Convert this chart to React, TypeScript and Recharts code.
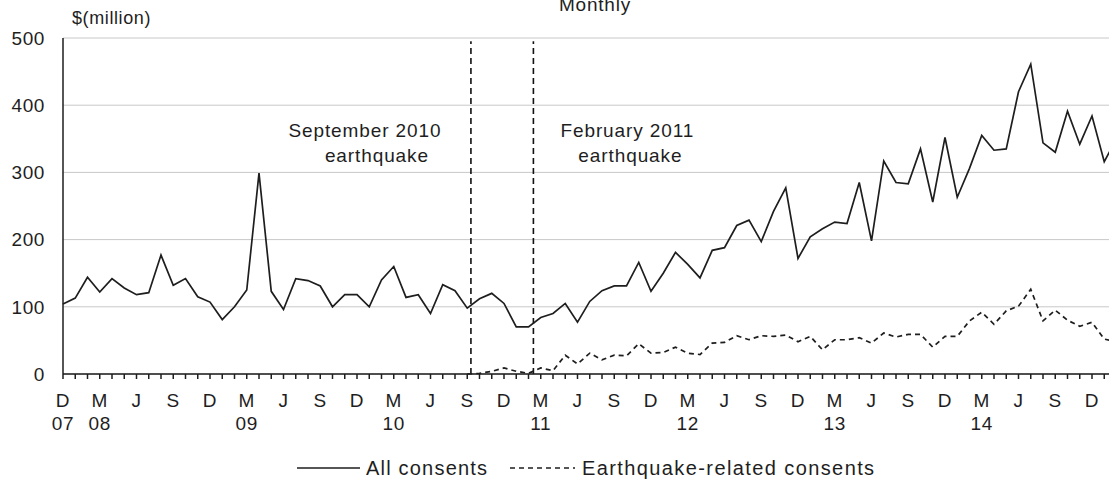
import { CartesianGrid, Line, LineChart, ReferenceLine, XAxis, YAxis } from "recharts"

// monthly values, Dec 2007 .. Feb 2015 ($ million)
const allConsents = [
  104, 113, 144, 122, 142, 128, 118, 121, 177, 132, 142, 115,
  107, 81, 100, 125, 299, 123, 96, 142, 139, 131, 100, 118,
  118, 100, 140, 160, 114, 118, 90, 133, 124, 98, 112, 120,
  105, 70, 70, 84, 90, 105, 77, 108, 124, 131, 131, 166,
  123, 150, 181, 163, 143, 184, 188, 221, 229, 197, 242, 277,
  172, 204, 216, 226, 224, 285, 198, 317, 285, 283, 335, 256,
  352, 263, 306, 355, 333, 335, 420, 461, 344, 330, 391, 342,
  384, 316, 350,
]

// earthquake-related series starts Sep 2010 (month index 33)
const quakeStart = 33
const quakeConsents = [
  0, 1, 4, 9, 4, 1, 9, 5, 28, 15, 31, 21, 28, 27, 45,
  31, 32, 40, 31, 29, 46, 47, 57, 51, 57, 56, 58,
  48, 56, 36, 51, 51, 54, 46, 61, 55, 59, 59, 40,
  56, 56, 79, 92, 74, 94, 101, 126, 79, 95, 80, 71,
  77, 52, 48,
]

const monthLetters = ["D", "M", "J", "S"]
const yearLabels = ["07", "08", "09", "10", "11", "12", "13", "14"]
const yTicks = [0, 100, 200, 300, 400, 500]
const seriesNames = ["All consents", "Earthquake-related consents"]
const quakeEvents = [
  { at: 33.3, text: ["September 2010", "earthquake"], dx: [-106, -94] },
  { at: 38.4, text: ["February 2011", "earthquake"], dx: [94, 97] },
]

const data = allConsents.map((v, i) => ({
  i,
  all: v,
  quake: i >= quakeStart ? quakeConsents[i - quakeStart] : null,
}))

const font = "'Liberation Sans', Arial, sans-serif"
const ink = "#1e1e1e"

function MonthTick({ x, y, payload }: any) {
  const i = payload.value
  if (i % 3 !== 0) return <g />
  const letter = monthLetters[(i % 12) / 3]
  let year = ""
  if (i === 0) year = yearLabels[0]
  else if (i % 12 === 3) year = yearLabels[(i - 3) / 12 + 1]
  return (
    <g fontFamily={font} fontSize={19} fill={ink} letterSpacing={0.6}>
      <text x={x} y={y + 26} textAnchor="middle">{letter}</text>
      {year && <text x={x} y={y + 49} textAnchor="middle">{year}</text>}
    </g>
  )
}

function eventLabel(ev: any) {
  return ({ viewBox }: any) => (
    <g fontFamily={font} fontSize={19} fill={ink} letterSpacing={0.9}>
      <text x={viewBox.x + ev.dx[0]} y={137} textAnchor="middle">{ev.text[0]}</text>
      <text x={viewBox.x + ev.dx[1]} y={162} textAnchor="middle">{ev.text[1]}</text>
    </g>
  )
}

export default function App() {
  return (
    <div style={{ position: "fixed", left: 0, top: 0, width: 1109, height: 485, overflow: "hidden", background: "#fff" }}>
      <LineChart width={1120} height={485} data={data} margin={{ top: 38, right: 3.5, bottom: 61, left: 0 }}>
        <CartesianGrid vertical={false} stroke="#c8c8c8" />
        <XAxis
          type="number"
          dataKey="i"
          domain={[0, 86]}
          ticks={data.map((d) => d.i)}
          interval={0}
          height={50}
          tickSize={5}
          tickMargin={2}
          stroke={ink}
          strokeWidth={1.5}
          tick={<MonthTick />}
        />
        <YAxis
          domain={[0, 500]}
          ticks={yTicks}
          width={63}
          tickLine={false}
          tickSize={0}
          tickMargin={18}
          stroke={ink}
          strokeWidth={1.5}
          tick={{ fill: ink, fontSize: 19, fontFamily: font, letterSpacing: 0.6 }}
        />
        {quakeEvents.map((ev) => (
          <ReferenceLine
            key={ev.at}
            segment={[{ x: ev.at, y: 0 }, { x: ev.at, y: 495 }]}
            stroke="#111"
            strokeWidth={1.6}
            strokeDasharray="6 4"
            label={eventLabel(ev)}
          />
        ))}
        <Line type="linear" dataKey="all" stroke={ink} strokeWidth={1.7} dot={false} isAnimationActive={false} />
        <Line
          type="linear"
          dataKey="quake"
          stroke={ink}
          strokeWidth={1.7}
          strokeDasharray="5 4"
          dot={false}
          isAnimationActive={false}
        />
      </LineChart>
      <svg width={1109} height={485} style={{ position: "absolute", left: 0, top: 0, pointerEvents: "none" }}>
        <g fontFamily={font} fill={ink}>
          <text x={595} y={11} fontSize={19} textAnchor="middle" letterSpacing={0.8}>Monthly</text>
          <text x={72} y={24} fontSize={18} letterSpacing={0.6}>$(million)</text>
          <line x1={297} x2={360} y1={468} y2={468} stroke={ink} strokeWidth={1.5} />
          <text x={366} y={475} fontSize={20} letterSpacing={1.2}>{seriesNames[0]}</text>
          <line x1={510} x2={575} y1={468} y2={468} stroke={ink} strokeWidth={1.5} strokeDasharray="5 4" />
          <text x={582} y={475} fontSize={20} letterSpacing={1.4}>{seriesNames[1]}</text>
        </g>
      </svg>
    </div>
  )
}
